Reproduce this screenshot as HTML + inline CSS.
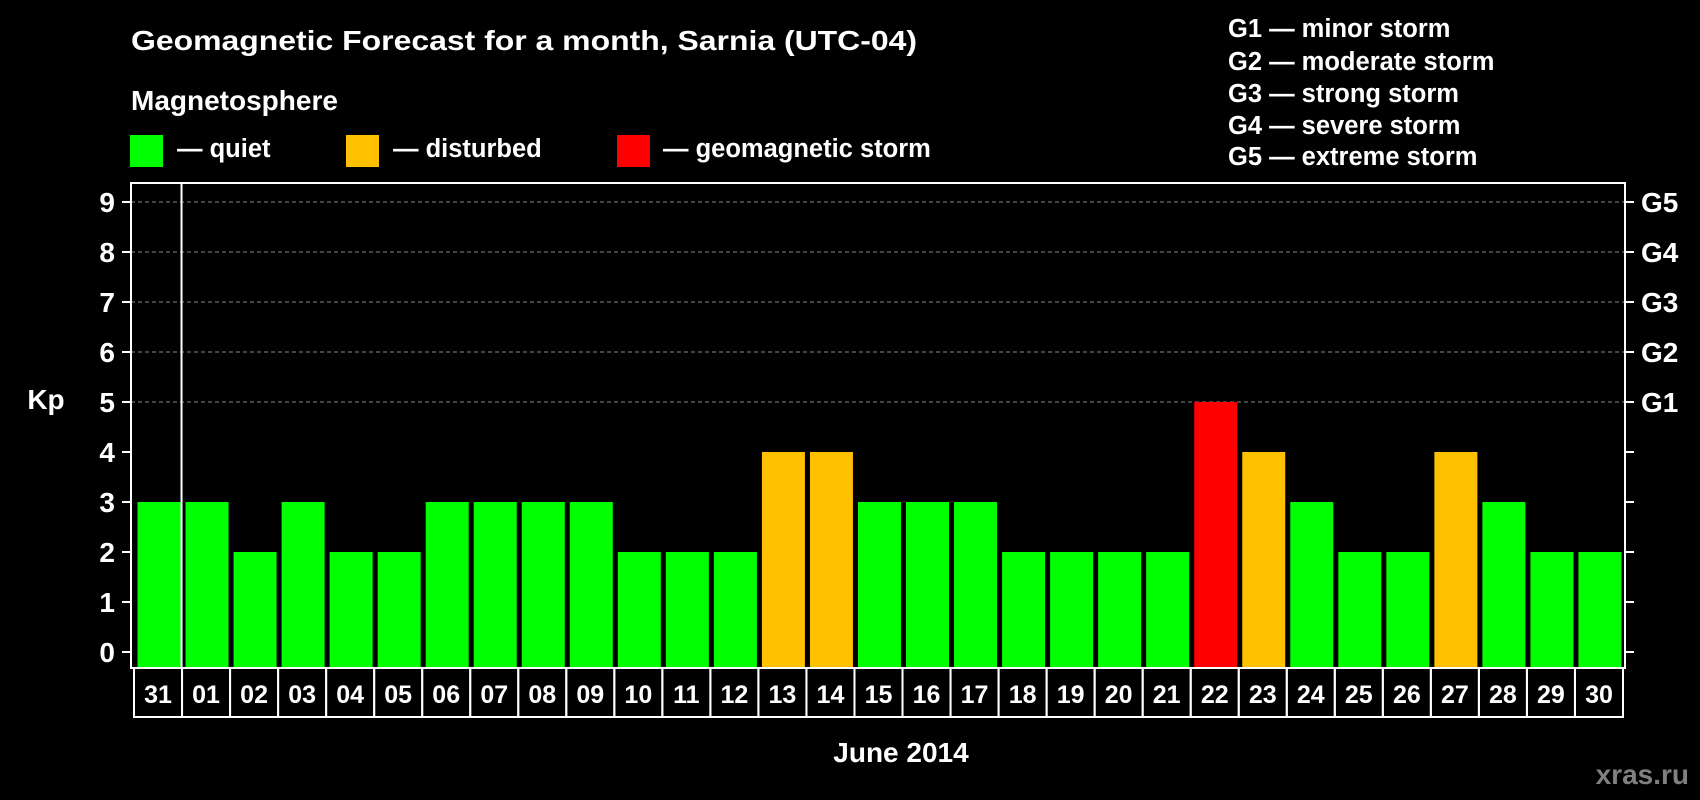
<!DOCTYPE html>
<html><head><meta charset="utf-8"><style>
html,body{margin:0;padding:0;background:#000;}
svg{display:block;font-family:"Liberation Sans",Arial,sans-serif;font-weight:bold;}
</style></head><body>
<svg id="chart" width="1700" height="800" viewBox="0 0 1700 800">
<rect x="0" y="0" width="1700" height="800" fill="#000"/>
<text x="131" y="50" fill="#fff" font-size="28" textLength="786" lengthAdjust="spacingAndGlyphs">Geomagnetic Forecast for a month, Sarnia (UTC-04)</text>
<text x="131" y="110" fill="#fff" font-size="28">Magnetosphere</text>
<g><rect x="130" y="135" width="33" height="32" fill="#00ff00"/><text x="177" y="157" fill="#fff" font-size="25.5">— quiet</text></g>
<g><rect x="346" y="135" width="33" height="32" fill="#ffc000"/><text x="393" y="157" fill="#fff" font-size="25.5">— disturbed</text></g>
<g><rect x="617" y="135" width="33" height="32" fill="#ff0000"/><text x="663" y="157" fill="#fff" font-size="25.5">— geomagnetic storm</text></g>
<g fill="#fff" font-size="25.5">
<text x="1228" y="37">G1 — minor storm</text>
<text x="1228" y="70">G2 — moderate storm</text>
<text x="1228" y="102">G3 — strong storm</text>
<text x="1228" y="134">G4 — severe storm</text>
<text x="1228" y="165">G5 — extreme storm</text>
</g>
<g id="grid"></g>
<g id="bars"></g>
<g id="axes"></g>
<text x="46" y="409" fill="#fff" font-size="28" text-anchor="middle">Kp</text>
<text x="901" y="762" fill="#fff" font-size="28" text-anchor="middle">June 2014</text>
<text x="1689" y="784" fill="#808080" font-size="28" text-anchor="end">xras.ru</text>
</svg>
<script>
const days = ["31","01","02","03","04","05","06","07","08","09","10","11","12","13","14","15","16","17","18","19","20","21","22","23","24","25","26","27","28","29","30"];
const kp = [3,3,2,3,2,2,3,3,3,3,2,2,2,4,4,3,3,3,2,2,2,2,5,4,3,2,2,4,3,2,2];
const yTicks = [0,1,2,3,4,5,6,7,8,9];
const gLabels = ["","","","","","G1","G2","G3","G4","G5"];

const NS="http://www.w3.org/2000/svg";
const L=131,R=1625,T=183,B=668;
const boxL=134,boxR=1623;
const slot=(boxR-boxL)/days.length;
function xs(i){return boxL+i*slot;}
function ys(v){return 652-50*v;}
function mk(tag,attrs,parent){const e=document.createElementNS(NS,tag);for(const k in attrs)e.setAttribute(k,attrs[k]);parent.appendChild(e);return e;}
const grid=document.getElementById('grid'),bars=document.getElementById('bars'),axes=document.getElementById('axes');
yTicks.forEach((v,i)=>{
  if(v>=5){const g=mk('line',{x1:L,x2:R,y1:ys(v),y2:ys(v),stroke:'#888','stroke-width':1,'stroke-dasharray':'4,3'},grid);
    
    }
  const t=mk('line',{x1:122,x2:L,y1:ys(v),y2:ys(v),stroke:'#fff','stroke-width':2},axes);
  
  
  const lb=mk('text',{x:115,y:ys(v)+10,fill:'#fff','font-size':28,'text-anchor':'end'},axes);lb.textContent=v;
  
  
  const rt=mk('line',{x1:R,x2:1634,y1:ys(v),y2:ys(v),stroke:'#fff','stroke-width':2},axes);
  
  
  if(gLabels[i]){const g=mk('text',{x:1641,y:ys(v)+10,fill:'#fff','font-size':28},axes);g.textContent=gLabels[i];
    
    }
});
kp.forEach((v,i)=>{
  const c=v>=5?'#ff0000':(v>=4?'#ffc000':'#00ff00');
  const r=mk('rect',{x:xs(i)+3.5,y:ys(v),width:43,height:B-ys(v),fill:c},bars);
  
  
  const bx=mk('rect',{x:xs(i),y:B,width:slot,height:49,fill:'none',stroke:'#fff','stroke-width':2},axes);
  
  
  const t=mk('text',{x:xs(i)+slot/2,y:B+35,fill:'#fff','font-size':25,'text-anchor':'middle'},axes);t.textContent=days[i];
  
  
});
const f=mk('rect',{x:L,y:T,width:R-L,height:B-T,fill:'none',stroke:'#fff','stroke-width':2},axes);


const sep=mk('line',{x1:xs(1)-0.5,x2:xs(1)-0.5,y1:T,y2:B,stroke:'#fff','stroke-width':2},axes);


</script>
</body></html>
